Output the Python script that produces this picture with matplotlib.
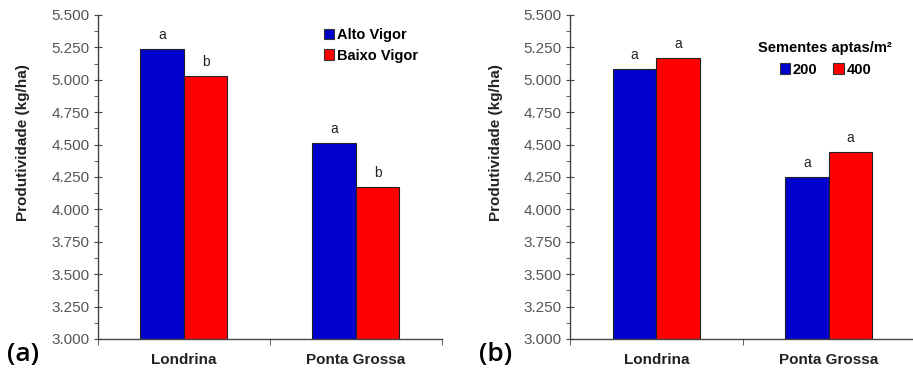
import numpy as np
import matplotlib.pyplot as plt
from matplotlib.ticker import MultipleLocator, FuncFormatter

plt.rcParams['font.family'] = ['Liberation Sans', 'DejaVu Sans']

locais = ['Londrina', 'Ponta Grossa']

# (a) vigor
alto_vigor = [5.235, 4.515]
baixo_vigor = [5.030, 4.170]
letras_alto = ['a', 'a']
letras_baixo = ['b', 'b']

# (b) densidade
dens_200 = [5.085, 4.250]
dens_400 = [5.170, 4.445]
letras_200 = ['a', 'a']
letras_400 = ['a', 'a']

azul = '#0000CC'
vermelho = '#FF0000'

fig = plt.figure(figsize=(9.13, 3.71), dpi=100)
ax1 = fig.add_axes([0.1073, 0.0863, 0.3768, 0.8733])
ax2 = fig.add_axes([0.6243, 0.0863, 0.3780, 0.8733])


def fmt(v, pos):
    return '{:.3f}'.format(v)


def painel(ax, s1, s2, l1, l2, nomes, xlab):
    x = np.arange(len(locais))
    w = 0.253
    b1 = ax.bar(x - w / 2, s1, w, color=azul, edgecolor='#222222', linewidth=0.8, label=nomes[0])
    b2 = ax.bar(x + w / 2, s2, w, color=vermelho, edgecolor='#222222', linewidth=0.8, label=nomes[1])
    for bars, letras in ((b1, l1), (b2, l2)):
        for b, t in zip(bars, letras):
            ax.text(b.get_x() + b.get_width() / 2, b.get_height() + 0.055, t,
                    ha='center', va='bottom', fontsize=10, color='#222222')
    ax.set_xlim(-0.5, 1.5)
    ax.set_ylim(3.0, 5.5)
    ax.yaxis.set_major_locator(MultipleLocator(0.25))
    ax.yaxis.set_minor_locator(MultipleLocator(0.125))
    ax.yaxis.set_major_formatter(FuncFormatter(fmt))
    ax.set_xticks(x)
    ax.set_xticklabels(locais, fontweight='bold', fontsize=11, color='#222222')
    ax.set_xticks([-0.5, 0.5, 1.5], minor=True)
    ax.tick_params(axis='x', which='major', length=0, pad=10)
    ax.tick_params(axis='x', which='minor', length=4, direction='out', color='#444444')
    ax.tick_params(axis='y', which='major', length=6, direction='inout', labelsize=11,
                   labelcolor='#555555', color='#444444', pad=3)
    ax.tick_params(axis='y', which='minor', length=3, direction='out', color='#444444')
    for s in ('top', 'right'):
        ax.spines[s].set_visible(False)
    for s in ('left', 'bottom'):
        ax.spines[s].set_color('#444444')
        ax.spines[s].set_linewidth(1.0)
    ax.set_ylabel('Produtividade (kg/ha)', fontweight='bold', fontsize=11, color='#222222')
    ax.yaxis.set_label_coords(xlab, 0.605)


painel(ax1, alto_vigor, baixo_vigor, letras_alto, letras_baixo, ['Alto Vigor', 'Baixo Vigor'], -0.198)
painel(ax2, dens_200, dens_400, letras_200, letras_400, ['200', '400'], -0.195)

leg1 = ax1.legend(loc='upper left', bbox_to_anchor=(0.619, 1.0), frameon=False,
                  handlelength=0.7, handleheight=0.7, handletextpad=0.2,
                  labelspacing=0.45, prop={'weight': 'bold', 'size': 10.5})
for h in leg1.legend_handles:
    h.set_edgecolor('#333333')

leg2 = ax2.legend(loc='upper center', bbox_to_anchor=(0.74, 0.95), frameon=False, ncol=2,
                  title='Sementes aptas/m²', handlelength=0.7, handleheight=0.7,
                  handletextpad=0.2, columnspacing=1.1, borderpad=0.2,
                  prop={'weight': 'bold', 'size': 10.5},
                  title_fontproperties={'weight': 'bold', 'size': 10.5})
for h in leg2.legend_handles:
    h.set_edgecolor('#333333')

fig.text(0.008, 0.045, '(a)', fontsize=19, fontweight='semibold',
         family=['Open Sans', 'DejaVu Sans'], va='center')
fig.text(0.525, 0.045, '(b)', fontsize=19, fontweight='semibold',
         family=['Open Sans', 'DejaVu Sans'], va='center')

fig.savefig('out.png', dpi=100)
